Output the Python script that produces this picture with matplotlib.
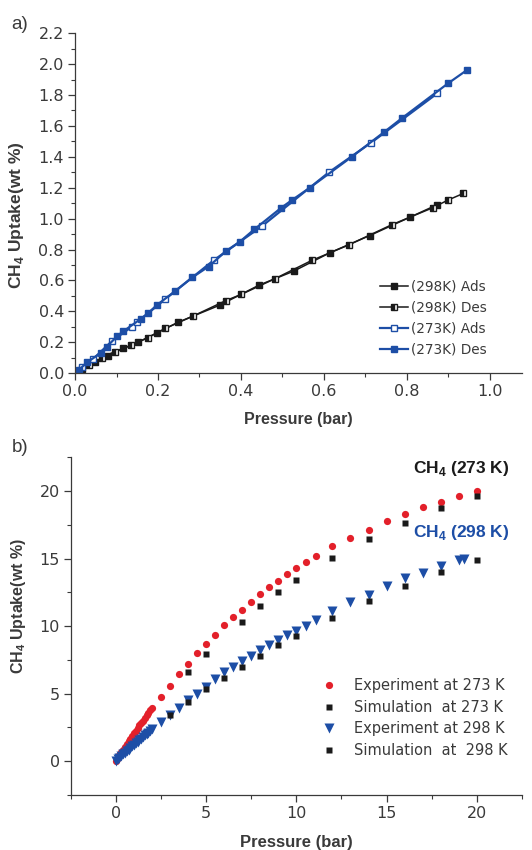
import numpy as np
import matplotlib
matplotlib.use("Agg")
import matplotlib.pyplot as plt
from matplotlib.ticker import MultipleLocator, FormatStrFormatter

plt.rcParams['font.family'] = ['Liberation Sans', 'DejaVu Sans']
plt.rcParams['mathtext.fontset'] = 'custom'
plt.rcParams['mathtext.rm'] = 'Liberation Sans'
plt.rcParams['mathtext.bf'] = 'Liberation Sans:bold'

BLUE = '#1d4ea6'
RED = '#e3202a'
BLACK = '#1a1a1a'
GREY = '#3a3a3a'
TICKFONT = 'DejaVu Sans'

# ---- panel a data (pressure in bar, uptake in wt %) ----
p298_ads = [0.016, 0.049, 0.080, 0.116, 0.152, 0.197, 0.249, 0.349, 0.444, 0.527, 0.615, 0.710, 0.808, 0.873]
u298_ads = [0.03, 0.07, 0.11, 0.16, 0.20, 0.26, 0.33, 0.44, 0.57, 0.66, 0.78, 0.89, 1.01, 1.09]
p298_des = [0.033, 0.065, 0.096, 0.136, 0.176, 0.218, 0.285, 0.364, 0.401, 0.481, 0.571, 0.660, 0.763, 0.862, 0.899, 0.936]
u298_des = [0.05, 0.10, 0.14, 0.18, 0.23, 0.29, 0.37, 0.47, 0.51, 0.61, 0.73, 0.83, 0.96, 1.07, 1.12, 1.163]
p273_ads = [0.017, 0.043, 0.090, 0.137, 0.150, 0.218, 0.334, 0.450, 0.612, 0.713, 0.873]
u273_ads = [0.04, 0.09, 0.21, 0.30, 0.33, 0.48, 0.73, 0.95, 1.30, 1.49, 1.81]
p273_des = [0.009, 0.029, 0.062, 0.076, 0.102, 0.116, 0.158, 0.177, 0.197, 0.241, 0.283, 0.322,
            0.364, 0.397, 0.432, 0.497, 0.523, 0.566, 0.667, 0.745, 0.788, 0.899, 0.944]
u273_des = [0.02, 0.07, 0.13, 0.17, 0.24, 0.27, 0.35, 0.39, 0.44, 0.53, 0.62, 0.69,
            0.79, 0.85, 0.93, 1.07, 1.12, 1.20, 1.40, 1.56, 1.65, 1.875, 1.96]

# ---- panel b data ----
p_exp273 = [0.0, 0.1, 0.2, 0.3, 0.4, 0.5, 0.6, 0.7, 0.8, 0.9, 1.0, 1.1, 1.2, 1.3, 1.4, 1.5, 1.6, 1.7, 1.8, 1.9, 2.0,
            2.5, 3.0, 3.5, 4.0, 4.5, 5.0, 5.5, 6.0, 6.5, 7.0, 7.5, 8.0, 8.5, 9.0, 9.5, 10.0, 10.55, 11.1,
            12.0, 13.0, 14.0, 15.0, 16.0, 17.0, 18.0, 19.0, 20.0]
u_exp273 = [0.0, 0.25, 0.45, 0.65, 0.85, 1.05, 1.25, 1.45, 1.65, 1.85, 2.05, 2.25, 2.45, 2.65, 2.85, 3.0, 3.2, 3.4,
            3.58, 3.76, 3.94,
            4.76, 5.58, 6.44, 7.2, 8.0, 8.67, 9.34, 10.1, 10.66, 11.2, 11.8, 12.4, 12.9, 13.36, 13.85, 14.3, 14.75, 15.2,
            15.9, 16.5, 17.15, 17.8, 18.3, 18.8, 19.2, 19.6, 20.0]
p_sim273 = [4, 5, 7, 8, 9, 10, 12, 14, 16, 18, 20]
u_sim273 = [6.62, 7.9, 10.28, 11.45, 12.49, 13.38, 15.04, 16.48, 17.65, 18.76, 19.6]
p_exp298 = [0.0, 0.1, 0.2, 0.3, 0.4, 0.5, 0.6, 0.7, 0.8, 0.9, 1.0, 1.1, 1.2, 1.3, 1.4, 1.5, 1.6, 1.7, 1.8, 1.9, 2.0,
            2.5, 3.0, 3.5, 4.0, 4.5, 5.0, 5.5, 6.0, 6.5, 7.0, 7.5, 8.0, 8.5, 9.0, 9.5, 10.0, 10.55, 11.1,
            12.0, 13.0, 14.0, 15.0, 16.0, 17.0, 18.0, 19.0, 19.27]
u_exp298 = [0.0, 0.13, 0.25, 0.37, 0.49, 0.61, 0.73, 0.85, 0.97, 1.08, 1.2, 1.32, 1.44, 1.55, 1.66, 1.78, 1.9, 2.0,
            2.1, 2.25, 2.4,
            2.9, 3.44, 3.94, 4.5, 5.0, 5.5, 6.07, 6.57, 6.99, 7.4, 7.8, 8.23, 8.6, 8.97, 9.3, 9.64, 10.0, 10.46,
            11.13, 11.75, 12.3, 12.94, 13.56, 13.93, 14.42, 14.92, 15.0]
p_sim298 = [3, 4, 5, 6, 7, 8, 9, 10, 12, 14, 16, 18, 20]
u_sim298 = [3.44, 4.34, 5.3, 6.12, 6.99, 7.78, 8.6, 9.29, 10.58, 11.82, 12.99, 14.0, 14.87]


def style_axes(ax):
    for s in ('top', 'right'):
        ax.spines[s].set_visible(False)
    for s in ('left', 'bottom'):
        ax.spines[s].set_color(GREY)
        ax.spines[s].set_linewidth(0.9)
    ax.tick_params(which='major', direction='out', length=5, width=0.9, color=GREY,
                   labelsize=11.5, labelcolor=GREY, pad=3)
    ax.tick_params(which='minor', direction='out', length=3, width=0.8, color=GREY)
    for lab in ax.get_xticklabels() + ax.get_yticklabels():
        lab.set_fontfamily(TICKFONT)


fig = plt.figure(figsize=(5.32, 8.5), dpi=100)

# ---------------- panel a ----------------
ax1 = fig.add_axes([0.141, 0.561, 0.840, 0.400])
ax1.plot(p298_ads, u298_ads, '-s', color=BLACK, lw=1.1, ms=4.2, mfc=BLACK, mec=BLACK,
         label='(298K) Ads')
ax1.plot(p298_des, u298_des, '-s', color=BLACK, lw=1.1, ms=4.2, fillstyle='left', mfc=BLACK,
         mfcalt='white', mec=BLACK, label='(298K) Des')
ax1.plot(p273_ads, u273_ads, '-s', color=BLUE, lw=1.6, ms=5, mfc='white', mec=BLUE,
         label='(273K) Ads')
ax1.plot(p273_des, u273_des, '-s', color=BLUE, lw=1.6, ms=5, mfc=BLUE, mec=BLUE,
         label='(273K) Des')
ax1.set_xlim(0, 1.077)
ax1.set_ylim(0, 2.2)
ax1.xaxis.set_major_locator(MultipleLocator(0.2))
ax1.xaxis.set_minor_locator(MultipleLocator(0.1))
ax1.yaxis.set_major_locator(MultipleLocator(0.2))
ax1.yaxis.set_minor_locator(MultipleLocator(0.1))
ax1.xaxis.set_major_formatter(FormatStrFormatter('%.1f'))
ax1.yaxis.set_major_formatter(FormatStrFormatter('%.1f'))
style_axes(ax1)
ax1.set_xlabel('Pressure (bar)', fontsize=11.5, fontweight='bold', color=GREY, labelpad=9)
ax1.set_ylabel(r'CH$_\mathbf{4}$ Uptake(wt %)', fontsize=12.5, fontweight='bold', color=GREY)
ax1.yaxis.set_label_coords(-0.11, 0.465)
ax1.legend(loc='upper left', bbox_to_anchor=(0.682, 0.274), borderaxespad=0, borderpad=0,
           frameon=False, prop={'family': TICKFONT, 'size': 9.8},
           handlelength=2.1, handletextpad=0.2, labelspacing=0.5, numpoints=1,
           labelcolor=GREY)
fig.text(0.022, 0.971, 'a)', fontsize=13.5, color=GREY, va='center', ha='left')

# ---------------- panel b ----------------
ax2 = fig.add_axes([0.133, 0.065, 0.848, 0.397])
ax2.plot(p_exp273, u_exp273, 'o', color=RED, ms=5.2, mec='none', label='Experiment at 273 K')
ax2.plot(p_sim273, u_sim273, 's', color=BLACK, ms=4.6, mec='none', label='Simulation  at 273 K')
ax2.plot(p_exp298, u_exp298, 'v', color=BLUE, ms=6.5, mec='none', label='Experiment at 298 K')
ax2.plot(p_sim298, u_sim298, 's', color=BLACK, ms=4.6, mec='none', label='Simulation  at  298 K')
ax2.set_xlim(-2.5, 22.5)
ax2.set_ylim(-2.5, 22.5)
ax2.xaxis.set_major_locator(MultipleLocator(5))
ax2.xaxis.set_minor_locator(MultipleLocator(2.5))
ax2.yaxis.set_major_locator(MultipleLocator(5))
ax2.yaxis.set_minor_locator(MultipleLocator(2.5))
style_axes(ax2)
ax2.set_xlabel('Pressure (bar)', fontsize=12, fontweight='bold', color=GREY, labelpad=10)
ax2.set_ylabel(r'CH$_\mathbf{4}$ Uptake(wt %)', fontsize=11.5, fontweight='bold', color=GREY)
ax2.yaxis.set_label_coords(-0.095, 0.56)
ax2.legend(loc='upper left', bbox_to_anchor=(0.56, 0.345), borderaxespad=0, borderpad=0,
           frameon=False, prop={'family': TICKFONT, 'size': 10.5},
           handlelength=0.8, handletextpad=1.3, labelspacing=0.45, numpoints=1, labelcolor=GREY)
ax2.text(21.8, 21.7, r'CH$_\mathbf{4}$ (273 K)', fontsize=12.5, fontweight='bold', color=BLACK,
         ha='right', va='center')
ax2.text(21.8, 16.9, r'CH$_\mathbf{4}$ (298 K)', fontsize=12.5, fontweight='bold', color=BLUE,
         ha='right', va='center')
fig.text(0.022, 0.474, 'b)', fontsize=13.5, color=GREY, va='center', ha='left')

fig.savefig('out.png', dpi=100)
